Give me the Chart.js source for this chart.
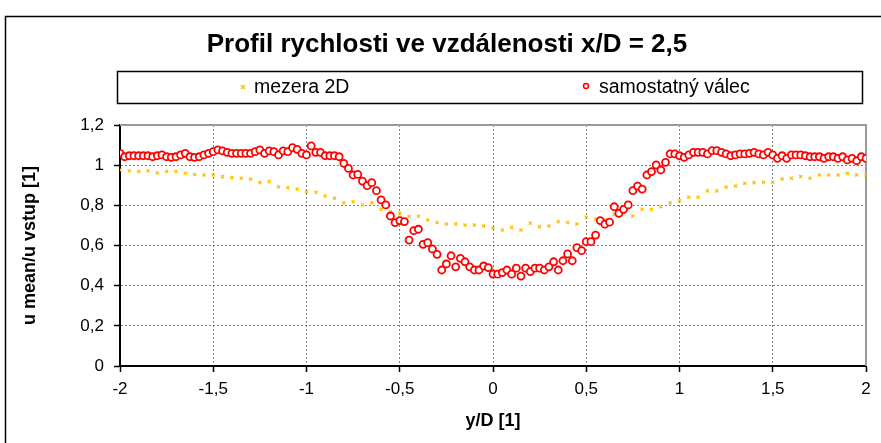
<!DOCTYPE html>
<html>
<head>
<meta charset="utf-8">
<script src="https://cdn.jsdelivr.net/npm/chart.js@4/dist/chart.umd.min.js"></script>
<style>
  html, body { margin: 0; padding: 0; background: #ffffff; }
  #wrap { width: 881px; height: 443px; position: relative; }
</style>
</head>
<body>
<div id="wrap"><canvas id="chart" width="881" height="443"></canvas></div>
<script>
// Velocity profile behind the cylinder at x/D = 2.5
const chartTitle = 'Profil rychlosti ve vzdálenosti x/D = 2,5';
const seriesNames = ['mezera 2D', 'samostatný válec'];
const xAxisTitle = 'y/D [1]';
const yAxisTitle = 'u mean/u vstup [1]';

const xTickValues = [-2, -1.5, -1, -0.5, 0, 0.5, 1, 1.5, 2];
const xTickLabels = ['-2', '-1,5', '-1', '-0,5', '0', '0,5', '1', '1,5', '2'];
const yTickValues = [0, 0.2, 0.4, 0.6, 0.8, 1, 1.2];
const yTickLabels = ['0', '0,2', '0,4', '0,6', '0,8', '1', '1,2'];

// series "mezera 2D": positions y/D and u mean / u vstup
const gapY = [
  -2, -1.95, -1.9, -1.85, -1.8, -1.75, -1.7, -1.65, -1.6, -1.55,
  -1.5, -1.45, -1.4, -1.35, -1.3, -1.25, -1.2, -1.15, -1.1, -1.05,
  -1, -0.95, -0.9, -0.85, -0.8, -0.75, -0.7, -0.65, -0.6, -0.55,
  -0.5, -0.45, -0.4, -0.35, -0.3, -0.25, -0.2, -0.15, -0.1, -0.05,
  0, 0.05, 0.1, 0.15, 0.2, 0.25, 0.3, 0.35, 0.4, 0.45,
  0.5, 0.55, 0.6, 0.65, 0.7, 0.75, 0.8, 0.85, 0.9, 0.95,
  1, 1.05, 1.1, 1.15, 1.2, 1.25, 1.3, 1.35, 1.4, 1.45,
  1.5, 1.55, 1.6, 1.65, 1.7, 1.75, 1.8, 1.85, 1.9, 1.95,
  2
];
const gapU = [
  0.976, 0.972, 0.968, 0.972, 0.962, 0.968, 0.968, 0.960, 0.954, 0.951,
  0.951, 0.943, 0.938, 0.935, 0.930, 0.913, 0.918, 0.893, 0.888, 0.880,
  0.868, 0.865, 0.847, 0.835, 0.813, 0.818, 0.802, 0.813, 0.780, 0.768,
  0.760, 0.744, 0.746, 0.727, 0.714, 0.707, 0.707, 0.702, 0.702, 0.697,
  0.686, 0.677, 0.690, 0.677, 0.711, 0.694, 0.697, 0.719, 0.714, 0.707,
  0.741, 0.731, 0.727, 0.755, 0.764, 0.747, 0.780, 0.780, 0.793, 0.813,
  0.823, 0.840, 0.840, 0.872, 0.872, 0.890, 0.896, 0.910, 0.913, 0.915,
  0.915, 0.931, 0.935, 0.943, 0.935, 0.951, 0.951, 0.951, 0.960, 0.951,
  0.951
];

// series "samostatný válec": positions y/D and u mean / u vstup
const soloY = [
  -2, -1.975, -1.95, -1.925, -1.9, -1.875, -1.85, -1.825, -1.8, -1.775,
  -1.75, -1.725, -1.7, -1.675, -1.65, -1.625, -1.6, -1.575, -1.55, -1.525,
  -1.5, -1.475, -1.45, -1.425, -1.4, -1.375, -1.35, -1.325, -1.3, -1.275,
  -1.25, -1.225, -1.2, -1.175, -1.15, -1.125, -1.1, -1.075, -1.05, -1.025,
  -1, -0.975, -0.95, -0.925, -0.9, -0.875, -0.85, -0.825, -0.8, -0.775,
  -0.75, -0.725, -0.7, -0.675, -0.65, -0.625, -0.6, -0.575, -0.55, -0.525,
  -0.5, -0.475, -0.45, -0.425, -0.4, -0.375, -0.35, -0.325, -0.3, -0.275,
  -0.25, -0.225, -0.2, -0.175, -0.15, -0.125, -0.1, -0.075, -0.05, -0.025,
  0, 0.025, 0.05, 0.075, 0.1, 0.125, 0.15, 0.175, 0.2, 0.225,
  0.25, 0.275, 0.3, 0.325, 0.35, 0.375, 0.4, 0.425, 0.45, 0.475,
  0.5, 0.525, 0.55, 0.575, 0.6, 0.625, 0.65, 0.675, 0.7, 0.725,
  0.75, 0.775, 0.8, 0.825, 0.85, 0.875, 0.9, 0.925, 0.95, 0.975,
  1, 1.025, 1.05, 1.075, 1.1, 1.125, 1.15, 1.175, 1.2, 1.225,
  1.25, 1.275, 1.3, 1.325, 1.35, 1.375, 1.4, 1.425, 1.45, 1.475,
  1.5, 1.525, 1.55, 1.575, 1.6, 1.625, 1.65, 1.675, 1.7, 1.725,
  1.75, 1.775, 1.8, 1.825, 1.85, 1.875, 1.9, 1.925, 1.95, 1.975,
  2
];
const soloU = [
  1.059, 1.042, 1.047, 1.047, 1.047, 1.047, 1.047, 1.042, 1.047, 1.051,
  1.042, 1.039, 1.042, 1.051, 1.059, 1.042, 1.039, 1.042, 1.051, 1.059,
  1.067, 1.076, 1.071, 1.064, 1.059, 1.059, 1.059, 1.059, 1.059, 1.067,
  1.076, 1.059, 1.071, 1.067, 1.051, 1.071, 1.067, 1.087, 1.079, 1.059,
  1.051, 1.096, 1.064, 1.064, 1.047, 1.047, 1.047, 1.042, 1.009, 0.984,
  0.951, 0.954, 0.921, 0.898, 0.913, 0.873, 0.827, 0.802, 0.747, 0.714,
  0.724, 0.719, 0.627, 0.674, 0.681, 0.606, 0.614, 0.583, 0.556, 0.478,
  0.508, 0.549, 0.494, 0.536, 0.519, 0.494, 0.478, 0.478, 0.498, 0.490,
  0.458, 0.457, 0.465, 0.478, 0.457, 0.487, 0.448, 0.487, 0.470, 0.487,
  0.487, 0.478, 0.494, 0.519, 0.478, 0.524, 0.558, 0.524, 0.589, 0.574,
  0.619, 0.619, 0.652, 0.724, 0.706, 0.716, 0.793, 0.760, 0.780, 0.802,
  0.873, 0.896, 0.881, 0.951, 0.968, 1.001, 0.976, 1.014, 1.056, 1.056,
  1.047, 1.039, 1.051, 1.064, 1.064, 1.064, 1.056, 1.072, 1.072, 1.064,
  1.056, 1.047, 1.051, 1.056, 1.056, 1.059, 1.064, 1.056, 1.051, 1.064,
  1.051, 1.034, 1.047, 1.034, 1.051, 1.051, 1.051, 1.047, 1.042, 1.042,
  1.042, 1.034, 1.042, 1.042, 1.034, 1.042, 1.026, 1.034, 1.022, 1.042,
  1.034
];

const gapColor = '#FFC000';
const soloColor = '#FF0000';
const FONT = '"Liberation Sans", Arial, sans-serif';

function pairs(xs, ys) {
  return xs.map((x, i) => ({ x: x, y: ys[i] }));
}

// white page, outer chart frame, plot-area border and the boxed legend
const decorations = {
  id: 'decorations',
  beforeDraw(chart) {
    const ctx = chart.ctx;
    ctx.save();
    ctx.fillStyle = '#ffffff';
    ctx.fillRect(0, 0, chart.width, chart.height);
    ctx.strokeStyle = '#000000';
    ctx.lineWidth = 1.5;
    ctx.strokeRect(5.5, 16.5, chart.width + 20, chart.height + 20);
    ctx.restore();
  },
  beforeDatasetsDraw(chart) {
    const a = chart.chartArea;
    const ctx = chart.ctx;
    ctx.save();
    ctx.strokeStyle = '#9a9a9a';
    ctx.lineWidth = 2;
    ctx.beginPath();
    ctx.moveTo(a.left, a.top);
    ctx.lineTo(a.right, a.top);
    ctx.lineTo(a.right, a.bottom);
    ctx.stroke();
    ctx.restore();
  },
  afterDraw(chart) {
    const ctx = chart.ctx;
    const a = chart.chartArea;
    const boxL = a.left - 3, boxR = a.right - 4, boxT = 71, boxB = 103;
    const midY = (boxT + boxB) / 2;
    ctx.save();
    ctx.strokeStyle = '#000000';
    ctx.lineWidth = 1.5;
    ctx.strokeRect(boxL + 0.5, boxT + 0.5, boxR - boxL, boxB - boxT);

    ctx.font = '19.5px ' + FONT;
    ctx.fillStyle = '#000000';
    ctx.textBaseline = 'middle';
    ctx.textAlign = 'left';

    // first entry: small cross
    const m1 = 243;
    ctx.strokeStyle = gapColor;
    ctx.lineWidth = 1.5;
    ctx.beginPath();
    ctx.moveTo(m1 - 2, midY - 2); ctx.lineTo(m1 + 2, midY + 2);
    ctx.moveTo(m1 + 2, midY - 2); ctx.lineTo(m1 - 2, midY + 2);
    ctx.stroke();
    ctx.fillText(seriesNames[0], 254, midY + 1);

    // second entry: small open circle
    const m2 = 586;
    ctx.strokeStyle = soloColor;
    ctx.beginPath();
    ctx.arc(m2, midY - 1, 2.5, 0, Math.PI * 2);
    ctx.stroke();
    ctx.fillStyle = '#000000';
    ctx.fillText(seriesNames[1], 599, midY + 1);
    ctx.restore();
  }
};

new Chart(document.getElementById('chart'), {
  type: 'scatter',
  data: {
    datasets: [
      {
        label: seriesNames[1],
        data: pairs(soloY, soloU),
        order: 0,
        pointStyle: 'circle',
        pointRadius: 3.5,
        borderWidth: 1.8,
        borderColor: soloColor,
        backgroundColor: '#ffffff',
        showLine: false
      },
      {
        label: seriesNames[0],
        data: pairs(gapY, gapU),
        order: 1,
        pointStyle: 'crossRot',
        pointRadius: 2.2,
        borderWidth: 1.3,
        borderColor: gapColor,
        backgroundColor: gapColor,
        showLine: false
      }
    ]
  },
  options: {
    responsive: false,
    animation: false,
    events: [],
    // left padding centres the title on the framed chart
    layout: { padding: { left: 28, right: 15, top: 0, bottom: 0 } },
    plugins: {
      legend: { display: false },
      tooltip: { enabled: false },
      title: {
        display: true,
        text: chartTitle,
        color: '#000000',
        font: { family: FONT, size: 26, weight: 'bold' },
        padding: { top: 29.4, bottom: 64.4 }
      }
    },
    scales: {
      x: {
        type: 'linear',
        min: -2,
        max: 2,
        afterBuildTicks(scale) { scale.ticks = xTickValues.map(v => ({ value: v })); },
        afterFit(scale) { scale.height = 77; },
        ticks: {
          color: '#000000',
          font: { family: FONT, size: 17 },
          padding: 7,
          maxRotation: 0,
          callback: (v, i) => xTickLabels[i]
        },
        grid: {
          color: '#808080',
          lineWidth: 1,
          tickLength: 6,
          tickColor: '#000000',
          tickWidth: 1.5
        },
        border: { display: true, color: '#000000', width: 2, dash: [2, 2] },
        title: {
          display: true,
          text: xAxisTitle,
          color: '#000000',
          font: { family: FONT, size: 18, weight: 'bold' },
          padding: { top: 0, bottom: 11 }
        }
      },
      y: {
        type: 'linear',
        min: 0,
        max: 1.2,
        afterBuildTicks(scale) { scale.ticks = yTickValues.map(v => ({ value: v })); },
        afterFit(scale) { scale.width = 92; },
        ticks: {
          color: '#000000',
          font: { family: FONT, size: 17 },
          padding: 10,
          callback: (v, i) => yTickLabels[i]
        },
        grid: {
          color: '#808080',
          lineWidth: 1,
          tickLength: 6,
          tickColor: '#000000',
          tickWidth: 1.5
        },
        border: { display: true, color: '#000000', width: 2, dash: [2, 2] },
        title: {
          display: true,
          text: yAxisTitle,
          color: '#000000',
          font: { family: FONT, size: 18, weight: 'bold' },
          padding: { top: -8.8, bottom: 0 }
        }
      }
    }
  },
  plugins: [decorations]
});
</script>
</body>
</html>
